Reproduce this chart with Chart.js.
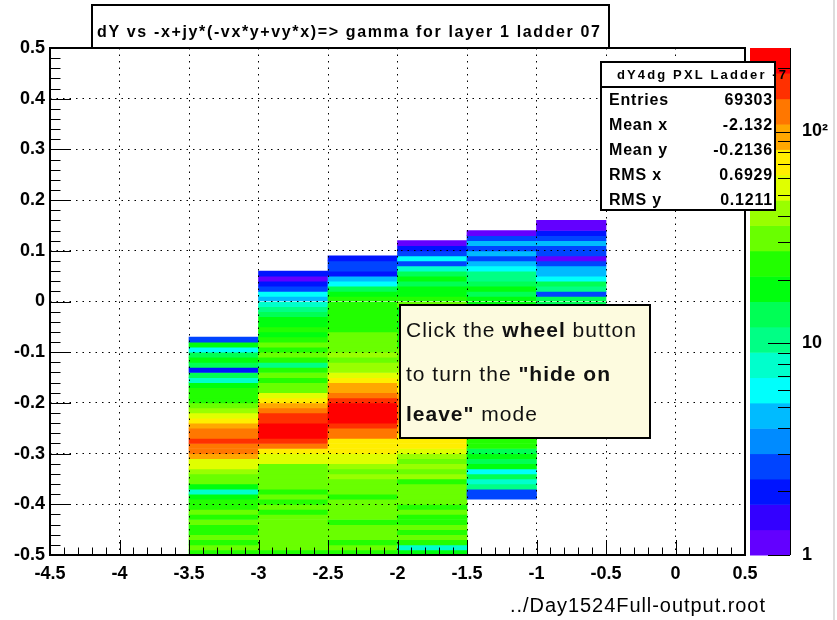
<!DOCTYPE html>
<html>
<head>
<meta charset="utf-8">
<script src="https://cdn.jsdelivr.net/npm/chart.js@4.4.0/dist/chart.umd.min.js"></script>
<style>
  html, body { margin: 0; padding: 0; background: #fff; }
  #wrap { position: relative; width: 837px; height: 620px; }
</style>
</head>
<body>
<div id="wrap"><canvas id="myChart" width="837" height="620"></canvas></div>
<script>
// x bins (one column per bin) and y binning
const xEdges = [-3.5, -3, -2.5, -2, -1.5, -1, -0.5];
const yStart = [-0.5, -0.5, -0.5, -0.5, -0.39, -0.10];
const yBin = 0.01;

// bin contents, bottom to top
const col1 = [24, 28, 24, 30, 22, 26, 32, 24, 28, 22,
              26, 18, 9, 20, 28, 32, 38, 50, 62, 90,
              115, 130, 150, 120, 110, 100, 70, 60, 42, 32,
              24, 22, 24, 18, 7, 12, 2, 13, 16, 12,
              6, 16, 3];
const col2 = [24, 30, 28, 32, 30, 34, 28, 30, 26, 32,
              26, 30, 24, 30, 28, 32, 35, 30, 50, 60,
              75, 110, 170, 200, 190, 210, 180, 165, 120, 100,
              70, 60, 34, 28, 24, 30, 22, 11, 24, 28,
              22, 30, 22, 20, 24, 20, 18, 14, 11, 8,
              5, 6, 3, 2, 1, 2];
const col3 = [24, 30, 24, 30, 28, 32, 26, 34, 28, 30,
              32, 26, 30, 34, 28, 38, 32, 44, 55, 62,
              68, 70, 75, 110, 125, 160, 195, 215, 200, 190,
              150, 115, 100, 95, 70, 55, 44, 38, 34, 40,
              30, 36, 28, 32, 24, 22, 24, 22, 24, 21,
              22, 18, 14, 6, 5, 2, 3, 3, 2];
const col4 = [18, 8, 22, 28, 24, 30, 22, 26, 30, 24,
              32, 28, 34, 30, 26, 38, 30, 42, 32, 44,
              55, 66, 72, 75, 85, 95, 110, 120, 130, 120,
              110, 95, 80, 70, 60, 50, 44, 38, 32, 30,
              28, 26, 24, 22, 24, 20, 22, 18, 20, 32,
              22, 16, 20, 13, 18, 14, 9, 3, 6, 3,
              2, 1];
const col5 = [3, 3, 10, 8, 14, 6, 16, 12, 18, 14,
              22, 24, 24, 28, 30, 34, 36, 40, 42, 44,
              42, 40, 38, 34, 30, 28, 26, 24, 22, 20,
              18, 16, 15, 14, 13, 12, 14, 12, 20, 16,
              13, 18, 14, 10, 10, 6, 5, 3, 4, 3,
              5, 3, 1];
const col6 = [2, 3, 4, 6, 8, 10, 12, 14, 15, 14,
              12, 3, 10, 12, 6, 5, 4, 3, 1, 3,
              3, 4, 3, 2, 1, 1];
const columns = [col1, col2, col3, col4, col5, col6];

const xTicks = [-4.5, -4, -3.5, -3, -2.5, -2, -1.5, -1, -0.5, 0, 0.5];
const yTicks = [-0.5, -0.4, -0.3, -0.2, -0.1, 0, 0.1, 0.2, 0.3, 0.4, 0.5];
const zTicks = [1, 10, 100];
const zMax = 248;
const nLevels = 20;

const titleText = 'dY vs -x+jy*(-vx*y+vy*x)=> gamma for layer 1 ladder 07';
const statsTitle = 'dY4dg PXL Ladder -7';
const statNames = ['Entries', 'Mean x', 'Mean y', 'RMS x', 'RMS y'];
const statValues = ['69303', '-2.132', '-0.2136', '0.6929', '0.1211'];
const fileLabel = '../Day1524Full-output.root';

const FONT = "'Liberation Sans', Arial, sans-serif";

// ROOT "pretty" palette, 50 colours, 20 contour levels
function levelColor(lvl) {
    const idx = Math.floor((lvl + 0.99) * 50 / nLevels);
    const hue = 280 - (idx + 1) * 280 / 50;
    return `hsl(${hue}, 100%, 50%)`;
}
function countColor(c) {
    let lvl = Math.floor(Math.log10(c) / Math.log10(zMax) * nLevels);
    lvl = Math.max(0, Math.min(nLevels - 1, lvl));
    return levelColor(lvl);
}

const cells = [];
columns.forEach((counts, i) => {
    const xc = (xEdges[i] + xEdges[i + 1]) / 2;
    counts.forEach((c, j) => {
        if (c <= 0) return;
        const y0 = yStart[i] + j * yBin;
        cells.push({ x: xc, y: [y0, y0 + yBin], c: c });
    });
});

function fitText(ctx, text, x, y, width) {
    ctx.letterSpacing = '0px';
    const w0 = ctx.measureText(text).width;
    const ls = (width - w0) / Math.max(1, text.length - 1);
    ctx.letterSpacing = ls + 'px';
    ctx.textAlign = 'left';
    ctx.fillText(text, x, y);
    ctx.letterSpacing = '0px';
}

// no label overflow padding, so the frame sits where ROOT put it
function noPad(s) {
    s.paddingTop = 0; s.paddingBottom = 0;
    s.paddingLeft = 0; s.paddingRight = 0;
}

const rootDecor = {
    id: 'rootDecor',
    beforeDraw(chart) {
        const ctx = chart.ctx;
        ctx.save();
        ctx.fillStyle = '#fff';
        ctx.fillRect(0, 0, chart.width, chart.height);
        ctx.restore();
    },
    afterDraw(chart) {
        const ctx = chart.ctx;
        const a = chart.chartArea;
        const xs = chart.scales.x, ys = chart.scales.y, zs = chart.scales.zAxis;
        ctx.save();
        ctx.strokeStyle = '#000';
        ctx.lineWidth = 1;

        // inner ticks, x axis (5 divisions per major)
        ctx.beginPath();
        for (let i = 0; i < xTicks.length; i++) {
            const px = Math.round(xs.getPixelForValue(xTicks[i])) + 0.5;
            ctx.moveTo(px, a.bottom); ctx.lineTo(px, a.bottom - 15);
            if (i < xTicks.length - 1) {
                const step = (xTicks[i + 1] - xTicks[i]) / 5;
                for (let k = 1; k < 5; k++) {
                    const p = Math.round(xs.getPixelForValue(xTicks[i] + k * step)) + 0.5;
                    ctx.moveTo(p, a.bottom); ctx.lineTo(p, a.bottom - 7.5);
                }
            }
        }
        // inner ticks, y axis
        for (let i = 0; i < yTicks.length; i++) {
            const py = Math.round(ys.getPixelForValue(yTicks[i])) + 0.5;
            ctx.moveTo(a.left, py); ctx.lineTo(a.left + 21, py);
            if (i < yTicks.length - 1) {
                const step = (yTicks[i + 1] - yTicks[i]) / 5;
                for (let k = 1; k < 5; k++) {
                    const p = Math.round(ys.getPixelForValue(yTicks[i] + k * step)) + 0.5;
                    ctx.moveTo(a.left, p); ctx.lineTo(a.left + 10.5, p);
                }
            }
        }
        ctx.stroke();

        // frame
        ctx.lineWidth = 2;
        ctx.strokeRect(a.left, a.top, a.right - a.left, a.bottom - a.top);

        // colour palette
        const bl = a.right + 5, br = a.right + 45;
        const L = Math.log10(zMax);
        for (let k = 0; k < nLevels; k++) {
            const p0 = zs.getPixelForValue(Math.pow(10, k * L / nLevels));
            const p1 = zs.getPixelForValue(Math.pow(10, (k + 1) * L / nLevels));
            ctx.fillStyle = levelColor(k);
            ctx.fillRect(bl, p1, br - bl, p0 - p1 + 0.5);
        }
        ctx.lineWidth = 1;
        ctx.beginPath();
        ctx.moveTo(br + 0.5, a.top); ctx.lineTo(br + 0.5, a.bottom);
        for (let d = 0; d < zTicks.length; d++) {
            for (let m = 1; m < 10; m++) {
                const v = zTicks[d] * m;
                if (v > zMax) break;
                const p = Math.round(zs.getPixelForValue(v)) + 0.5;
                ctx.moveTo(br, p); ctx.lineTo(br - (m === 1 ? 22 : 12), p);
            }
        }
        ctx.stroke();

        // title box
        ctx.fillStyle = '#fff';
        ctx.fillRect(92, 5, 517, 43);
        ctx.lineWidth = 2;
        ctx.strokeRect(92, 5, 517, 43);
        ctx.fillStyle = '#000';
        ctx.textBaseline = 'middle';
        ctx.font = 'bold 16px ' + FONT;
        fitText(ctx, titleText, 97, 33, 503);

        // stats box
        ctx.fillStyle = '#fff';
        ctx.fillRect(601, 62, 174, 148);
        ctx.strokeRect(601, 62, 174, 148);
        ctx.beginPath();
        ctx.moveTo(601, 87); ctx.lineTo(775, 87);
        ctx.stroke();
        ctx.fillStyle = '#000';
        ctx.font = 'bold 13px ' + FONT;
        fitText(ctx, statsTitle, 617, 75, 169);
        ctx.font = 'bold 16px ' + FONT;
        for (let i = 0; i < statNames.length; i++) {
            const y = 101 + i * 25;
            ctx.letterSpacing = '0.8px';
            ctx.textAlign = 'left';
            ctx.fillText(statNames[i], 609, y);
            ctx.textAlign = 'right';
            ctx.fillText(statValues[i], 773, y);
        }
        ctx.letterSpacing = '0px';

        // "hide on leave" info box
        ctx.fillStyle = '#fdfbdf';
        ctx.fillRect(400, 305, 250, 133);
        ctx.strokeRect(400, 305, 250, 133);
        const lines = [
            [['Click the ', false], ['wheel', true], [' button', false]],
            [['to turn the ', false], ['"hide on', true]],
            [['leave"', true], [' mode', false]]
        ];
        const lineY = [331, 375, 415];
        ctx.fillStyle = '#111';
        ctx.textAlign = 'left';
        ctx.letterSpacing = '1px';
        lines.forEach((runs, li) => {
            let x = 406;
            runs.forEach(([t, b]) => {
                ctx.font = (b ? 'bold ' : '') + '21px ' + FONT;
                ctx.fillText(t, x, lineY[li]);
                x += ctx.measureText(t).width;
            });
        });
        ctx.letterSpacing = '0px';

        // file name
        ctx.fillStyle = '#000';
        ctx.font = '20px ' + FONT;
        fitText(ctx, fileLabel, 510, 606, 255);

        // window edge
        ctx.fillStyle = '#ddd';
        ctx.fillRect(833, 0, 2, 620);
        ctx.restore();
    }
};

const tickFont = { family: FONT, size: 18, weight: 'bold' };

new Chart(document.getElementById('myChart'), {
    type: 'bar',
    data: {
        datasets: [{
            data: cells,
            yAxisID: 'y',
            backgroundColor: c => (c.raw ? countColor(c.raw.c) : '#fff'),
            borderWidth: 0,
            barPercentage: 1,
            categoryPercentage: 1,
            grouped: false
        }]
    },
    options: {
        responsive: false,
        animation: false,
        events: [],
        devicePixelRatio: 1,
        layout: { padding: { top: 48, left: 0, right: 0, bottom: 0 } },
        plugins: { legend: { display: false }, tooltip: { enabled: false } },
        scales: {
            x: {
                type: 'linear', min: -4.5, max: 0.5, offset: false,
                afterBuildTicks: s => { s.ticks = xTicks.map(v => ({ value: v })); },
                afterFit: s => { s.height = 65; noPad(s); },
                grid: { offset: false, color: '#000', lineWidth: 1, drawTicks: false, z: 1 },
                border: { display: false, dash: [1.5, 5] },
                ticks: { font: tickFont, color: '#000', padding: 8, maxRotation: 0, autoSkip: false,
                         callback: v => String(+v.toFixed(1)) }
            },
            y: {
                type: 'linear', min: -0.5, max: 0.5,
                afterBuildTicks: s => { s.ticks = yTicks.map(v => ({ value: v })); },
                afterFit: s => { s.width = 50; noPad(s); },
                grid: { color: '#000', lineWidth: 1, drawTicks: false, z: 1 },
                border: { display: false, dash: [1.5, 5] },
                ticks: { font: tickFont, color: '#000', padding: 5, autoSkip: false,
                         callback: v => String(+v.toFixed(1)) }
            },
            zAxis: {
                axis: 'y', type: 'logarithmic', position: 'right', min: 1, max: zMax,
                afterBuildTicks: s => { s.ticks = zTicks.map(v => ({ value: v })); },
                afterFit: s => { s.width = 92; noPad(s); },
                grid: { display: false, drawTicks: false },
                border: { display: false },
                ticks: { font: tickFont, color: '#000', padding: 57, autoSkip: false,
                         callback: v => (v === 100 ? '10²' : String(v)) }
            }
        }
    },
    plugins: [rootDecor]
});
</script>
</body>
</html>
